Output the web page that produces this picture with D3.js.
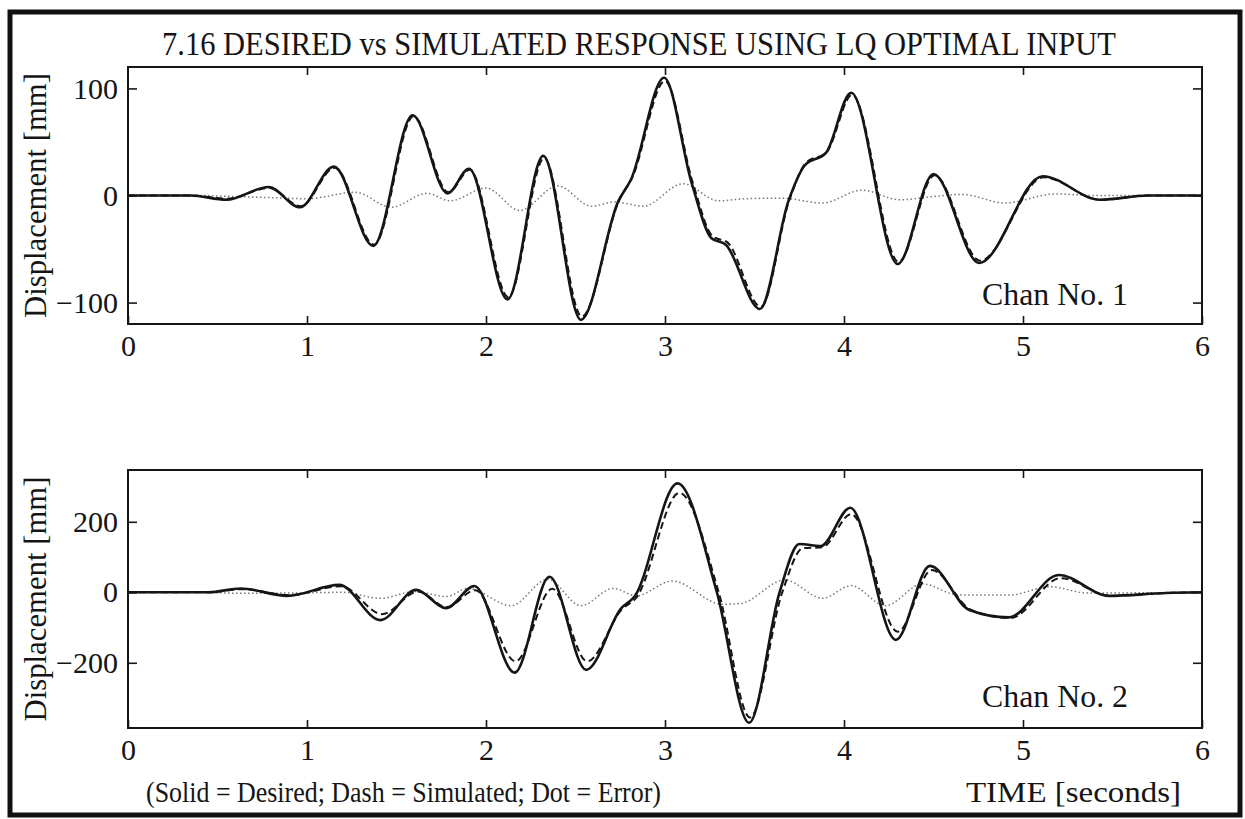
<!DOCTYPE html>
<html>
<head>
<meta charset="utf-8">
<script src="https://cdn.jsdelivr.net/npm/d3@7"></script>
<style>
  body { margin: 0; background: #fff; }
  svg { display: block; }
  text { font-family: "Liberation Serif", "Times New Roman", serif; fill: #151515; }
</style>
</head>
<body>
<div id="chart"></div>
<script>
// tick values
const timeTicks = [0, 1, 2, 3, 4, 5, 6];
const ch1Ticks = [-100, 0, 100];
const ch2Ticks = [-200, 0, 200];

const ch1Desired = [[0, 0], [0.35, 0], [0.55, -4], [0.785, 8], [0.96, -11], [1.15, 27], [1.37, -47],
  [1.59, 75], [1.785, 2], [1.905, 25], [2.12, -97], [2.32, 37], [2.53, -116], [2.74, -5], [2.81, 15],
  [2.995, 110], [3.15, 11], [3.26, -40], [3.34, -46], [3.53, -106], [3.69, -5], [3.78, 28], [3.90, 40],
  [4.04, 96], [4.30, -64], [4.50, 20], [4.755, -63], [5.11, 18], [5.43, -4], [5.7, 0], [6, 0]];
const ch1Simulated = [[0, 0], [0.35, 0], [0.55, -3], [0.79, 7], [0.965, -10], [1.155, 26], [1.375, -46],
  [1.595, 74], [1.79, 3], [1.91, 24], [2.125, -95], [2.325, 35], [2.535, -113], [2.745, -4], [2.815, 16],
  [3.0, 107], [3.155, 12], [3.265, -38], [3.35, -44], [3.535, -104], [3.695, -4], [3.785, 30], [3.905, 41],
  [4.045, 94], [4.305, -62], [4.505, 19], [4.76, -61], [5.115, 17], [5.435, -4], [5.7, 0], [6, 0]];
const ch1Error = [[0, 0], [0.4, 0], [0.6, -1], [0.8, -2], [1.0, -3], [1.27, 3], [1.47, -11], [1.67, 2],
  [1.80, -5], [2.0, 7], [2.19, -14], [2.40, 9], [2.59, -10], [2.72, -6], [2.88, -10], [3.10, 11],
  [3.30, -5], [3.45, -3], [3.65, -2.5], [3.88, -7], [4.10, 5], [4.31, -4], [4.5, -1], [4.66, 1],
  [4.90, -7], [5.18, 1.5], [5.4, 0], [6, 0]];

const ch2Desired = [[0, 0], [0.45, 0], [0.63, 11], [0.89, -10], [1.18, 21], [1.41, -79], [1.61, 7],
  [1.776, -45], [1.935, 18], [2.16, -228], [2.355, 44], [2.56, -220], [2.756, -45], [2.83, -12],
  [3.07, 309], [3.29, 0], [3.47, -370], [3.64, 0], [3.75, 137], [3.87, 131], [4.035, 240], [4.29, -135],
  [4.48, 75], [4.70, -50], [4.92, -71], [5.20, 49], [5.48, -10], [5.8, -2], [6, 0]];
const ch2Simulated = [[0, 0], [0.45, 0], [0.64, 9], [0.9, -8], [1.19, 17], [1.42, -62], [1.62, 2],
  [1.78, -42], [1.94, 6], [2.165, -196], [2.37, 10], [2.565, -196], [2.76, -48], [2.84, -15],
  [3.08, 282], [3.30, 0], [3.475, -355], [3.655, 0], [3.77, 125], [3.88, 128], [4.04, 222], [4.30, -112],
  [4.49, 63], [4.71, -50], [4.93, -73], [5.21, 40], [5.49, -10], [5.8, -2], [6, 0]];
const ch2Error = [[0, 0], [0.4, 0], [0.63, -3], [0.9, -2], [1.2, 0], [1.41, -17], [1.6, 2], [1.78, -12],
  [1.90, 11], [2.14, -38], [2.345, 37], [2.53, -38], [2.71, 11], [2.84, -10], [3.04, 32], [3.32, -34],
  [3.42, -32], [3.67, 35], [3.88, -17], [4.04, 19], [4.23, -38], [4.44, 24], [4.62, -6], [4.70, -8],
  [4.92, -8], [5.15, 16], [5.36, -2], [6, 0]];

const width = 1245;
const height = 819;
const left = 128;
const right = 1202;

const svg = d3.select('#chart')
  .append('svg')
  .attr('width', width)
  .attr('height', height);

// outer frame of the figure
svg.append('rect')
  .attr('x', 10).attr('y', 12)
  .attr('width', 1230).attr('height', 803)
  .attr('fill', 'none')
  .attr('stroke', '#111')
  .attr('stroke-width', 5);

svg.append('text')
  .attr('x', 162).attr('y', 55)
  .attr('font-size', 33)
  .attr('textLength', 954)
  .attr('lengthAdjust', 'spacingAndGlyphs')
  .text('7.16 DESIRED vs SIMULATED RESPONSE USING LQ OPTIMAL INPUT');

function drawPanel(p) {
  const x = d3.scaleLinear().domain([0, 6]).range([left, right]);
  const y = d3.scaleLinear().domain(p.domain).range([p.bottom, p.top]);
  const g = svg.append('g');

  const line = d3.line()
    .x((d) => x(d[0]))
    .y((d) => y(d[1]))
    .curve(d3.curveMonotoneX);

  // error (dot)
  g.append('path')
    .datum(p.error)
    .attr('d', line)
    .attr('fill', 'none')
    .attr('stroke', '#777')
    .attr('stroke-width', 1.5)
    .attr('stroke-dasharray', '1.5,2.5');
  // simulated (dash)
  g.append('path')
    .datum(p.simulated)
    .attr('d', line)
    .attr('fill', 'none')
    .attr('stroke', '#151515')
    .attr('stroke-width', 2)
    .attr('stroke-dasharray', '7,4');
  // desired (solid)
  g.append('path')
    .datum(p.desired)
    .attr('d', line)
    .attr('fill', 'none')
    .attr('stroke', '#151515')
    .attr('stroke-width', 2.6);

  // axes, ticks pointing inward
  const tidy = (a) => {
    a.select('.domain').remove();
    a.attr('font-family', null).attr('font-size', 30).attr('color', '#151515');
    a.selectAll('line').attr('stroke-width', 1.6);
  };
  g.append('g')
    .attr('transform', `translate(0,${p.bottom})`)
    .call(d3.axisBottom(x).tickValues(timeTicks).tickSizeInner(-8).tickSizeOuter(0)
      .tickPadding(11).tickFormat(d3.format('d')))
    .call(tidy);
  g.append('g')
    .attr('transform', `translate(0,${p.top})`)
    .call(d3.axisTop(x).tickValues(timeTicks.slice(1, -1)).tickSizeInner(-8).tickSizeOuter(0)
      .tickFormat(''))
    .call(tidy);
  g.append('g')
    .attr('transform', `translate(${left},0)`)
    .call(d3.axisLeft(y).tickValues(p.ticks).tickSizeInner(-9).tickSizeOuter(0)
      .tickPadding(10).tickFormat(d3.format('d')))
    .call(tidy);
  g.append('g')
    .attr('transform', `translate(${right},0)`)
    .call(d3.axisRight(y).tickValues(p.ticks).tickSizeInner(-9).tickSizeOuter(0)
      .tickFormat(''))
    .call(tidy);

  // plot box
  g.append('rect')
    .attr('x', left).attr('y', p.top)
    .attr('width', right - left).attr('height', p.bottom - p.top)
    .attr('fill', 'none')
    .attr('stroke', '#151515')
    .attr('stroke-width', 2);

  g.append('text')
    .attr('transform', `translate(46,${(p.top + p.bottom) / 2}) rotate(-90)`)
    .attr('text-anchor', 'middle')
    .attr('font-size', 31)
    .attr('textLength', 245)
    .attr('lengthAdjust', 'spacingAndGlyphs')
    .text('Displacement [mm]');

  g.append('text')
    .attr('x', 982).attr('y', p.labelY)
    .attr('font-size', 32)
    .attr('textLength', 146)
    .attr('lengthAdjust', 'spacingAndGlyphs')
    .text(p.label);
}

drawPanel({
  top: 67, bottom: 324, domain: [-120, 120], ticks: ch1Ticks,
  desired: ch1Desired, simulated: ch1Simulated, error: ch1Error,
  label: 'Chan No. 1', labelY: 305,
});
drawPanel({
  top: 470, bottom: 728, domain: [-385, 347], ticks: ch2Ticks,
  desired: ch2Desired, simulated: ch2Simulated, error: ch2Error,
  label: 'Chan No. 2', labelY: 707,
});

svg.append('text')
  .attr('x', 146).attr('y', 802)
  .attr('font-size', 30)
  .attr('textLength', 515)
  .attr('lengthAdjust', 'spacingAndGlyphs')
  .text('(Solid = Desired; Dash = Simulated; Dot = Error)');

svg.append('text')
  .attr('x', 966).attr('y', 802)
  .attr('font-size', 30)
  .attr('textLength', 215)
  .attr('lengthAdjust', 'spacingAndGlyphs')
  .text('TIME [seconds]');
</script>
</body>
</html>
